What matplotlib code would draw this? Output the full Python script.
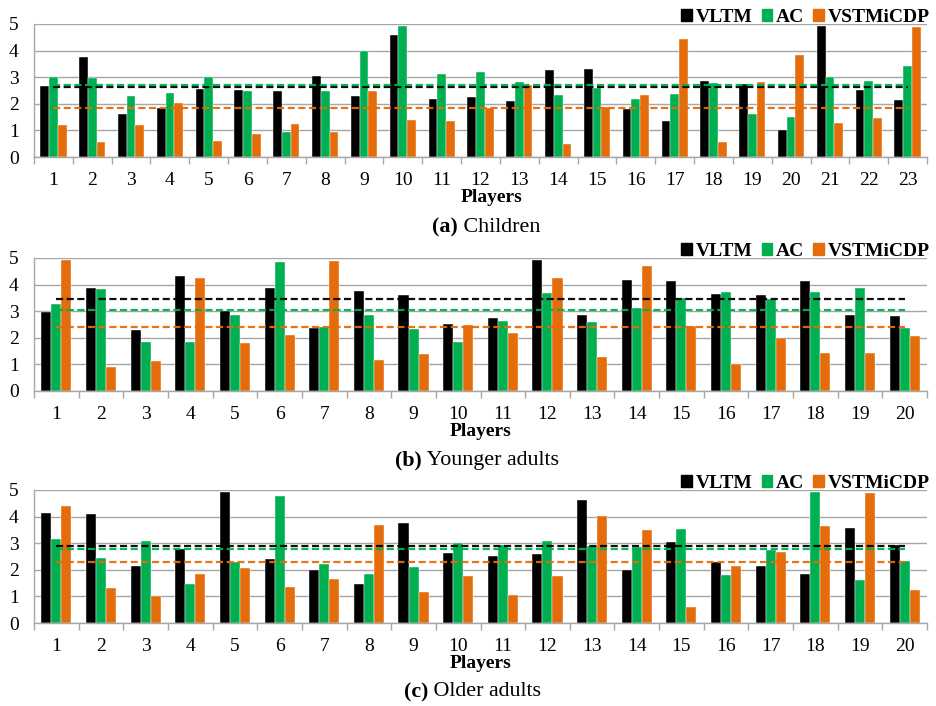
import matplotlib
matplotlib.use("Agg")
import matplotlib.pyplot as plt
from matplotlib.patches import Patch
import numpy as np

plt.rcParams['font.family'] = ['Liberation Serif', 'DejaVu Serif']

series_names = ["VLTM", "AC", "VSTMiCDP"]
colors = ["#000000", "#00B050", "#E46C0A"]

# (a) Children
children_vltm = [2.66, 3.76, 1.62, 1.84, 2.57, 2.53, 2.48, 3.06, 2.29, 4.59, 2.19, 2.27,
                 2.11, 3.27, 3.31, 1.80, 1.35, 2.86, 2.74, 1.03, 4.92, 2.53, 2.14]
children_ac = [3.01, 2.97, 2.29, 2.41, 3.00, 2.47, 0.95, 2.48, 3.98, 4.92, 3.12, 3.21,
               2.81, 2.33, 2.59, 2.18, 2.37, 2.78, 1.60, 1.50, 3.01, 2.84, 3.42]
children_vstm = [1.19, 0.55, 1.20, 2.02, 0.61, 0.86, 1.25, 0.93, 2.47, 1.38, 1.35, 1.83,
                 2.71, 0.49, 1.87, 2.33, 4.42, 0.56, 2.81, 3.85, 1.28, 1.48, 4.89]
children_means = [2.62, 2.72, 1.84]

# (b) Younger adults
younger_vltm = [2.98, 3.88, 2.31, 4.33, 3.00, 3.89, 2.36, 3.75, 3.62, 2.53,
                2.76, 4.91, 2.86, 4.16, 4.14, 3.65, 3.62, 4.15, 2.86, 2.83]
younger_ac = [3.27, 3.82, 1.86, 1.85, 2.87, 4.85, 2.41, 2.84, 2.34, 1.83,
              2.63, 3.67, 2.61, 3.13, 3.48, 3.73, 3.47, 3.73, 3.87, 2.37]
younger_vstm = [4.94, 0.89, 1.11, 4.23, 1.82, 2.11, 4.90, 1.18, 1.40, 2.48,
                2.18, 4.23, 1.26, 4.71, 2.44, 1.01, 1.98, 1.42, 1.41, 2.08]
younger_means = [3.45, 3.03, 2.41]

# (c) Older adults
older_vltm = [4.15, 4.08, 2.16, 2.77, 4.94, 2.42, 2.01, 1.46, 3.75, 2.63,
              2.52, 2.61, 4.63, 2.00, 3.04, 2.28, 2.16, 1.83, 3.57, 2.92]
older_ac = [3.15, 2.44, 3.10, 1.46, 2.29, 4.76, 2.22, 1.85, 2.09, 3.02,
            2.92, 3.07, 2.89, 2.84, 3.53, 1.81, 2.74, 4.91, 1.62, 2.32]
older_vstm = [4.38, 1.32, 1.00, 1.85, 2.07, 1.36, 1.66, 3.68, 1.15, 1.77,
              1.05, 1.77, 4.01, 3.48, 0.61, 2.13, 2.67, 3.63, 4.88, 1.23]
older_means = [2.89, 2.77, 2.29]

panels = [
    ("(a)", " Children", [children_vltm, children_ac, children_vstm], children_means),
    ("(b)", " Younger adults", [younger_vltm, younger_ac, younger_vstm], younger_means),
    ("(c)", " Older adults", [older_vltm, older_ac, older_vstm], older_means),
]

W, H = 936, 706
fig = plt.figure(figsize=(W / 100, H / 100), dpi=100)

# pixel layout: (top, bottom, players_x, players_y, caption_y, caption_split_x)
layout = [
    (24, 157, 492, 198, 227, 458),
    (258, 391, 481, 432, 460, 422),
    (490, 623, 481, 664, 692, 428),
]
left_px, right_px = 34, 927
grid_col = "#A6A6A6"

for (lab_b, lab_n, data, means), (top, bot, px, py, cy, cx) in zip(panels, layout):
    ax = fig.add_axes([left_px / W, 1 - bot / H, (right_px - left_px) / W, (bot - top) / H])
    n = len(data[0])
    x = np.arange(1, n + 1)
    bw = 0.225
    for i, (vals, col) in enumerate(zip(data, colors)):
        ax.bar(x + (i - 1) * bw, vals, width=bw, color=col, edgecolor='white',
               linewidth=0.3, zorder=2)
    for m, col in zip(means, colors):
        ax.plot([1, n], [m, m], color=col, lw=1.6, dashes=(3.2, 1.6), zorder=3,
                alpha=0.95)
    ax.set_xlim(0.5, n + 0.5)
    ax.set_ylim(0, 5)
    ax.set_yticks(range(0, 6))
    ax.yaxis.grid(True, color=grid_col, lw=1.0, zorder=0)
    ax.set_axisbelow(True)
    ax.set_xticks(x)
    ax.set_xticklabels([str(v) for v in x])
    ax.set_xticks(np.arange(0.5, n + 1.0, 1.0), minor=True)
    ax.tick_params(axis='x', which='major', length=0, pad=10.5, labelsize=14)
    ax.tick_params(axis='x', which='minor', length=5, color=grid_col, width=1)
    ax.tick_params(axis='y', length=0, pad=11, labelsize=14)
    for s in ['top', 'right']:
        ax.spines[s].set_visible(False)
    for s in ['left', 'bottom']:
        ax.spines[s].set_color(grid_col)
        ax.spines[s].set_linewidth(1)
    handles = [Patch(facecolor=c, edgecolor=c) for c in colors]
    ax.legend(handles, series_names, loc='lower right', bbox_to_anchor=(1.003, 0.985),
              ncol=3, frameon=False, borderaxespad=0, borderpad=0,
              handlelength=0.55, handleheight=0.55, handletextpad=0.2,
              columnspacing=0.45, prop={'weight': 'bold', 'size': 14})
    fig.text(px / W, 1 - py / H, "Players", ha='center', va='center',
             fontsize=14, fontweight='bold')
    fig.text(cx / W, 1 - cy / H, lab_b, ha='right', va='center',
             fontsize=15.8, fontweight='bold')
    fig.text(cx / W, 1 - cy / H, lab_n, ha='left', va='center', fontsize=15.8)

fig.savefig("out.png", dpi=100)
